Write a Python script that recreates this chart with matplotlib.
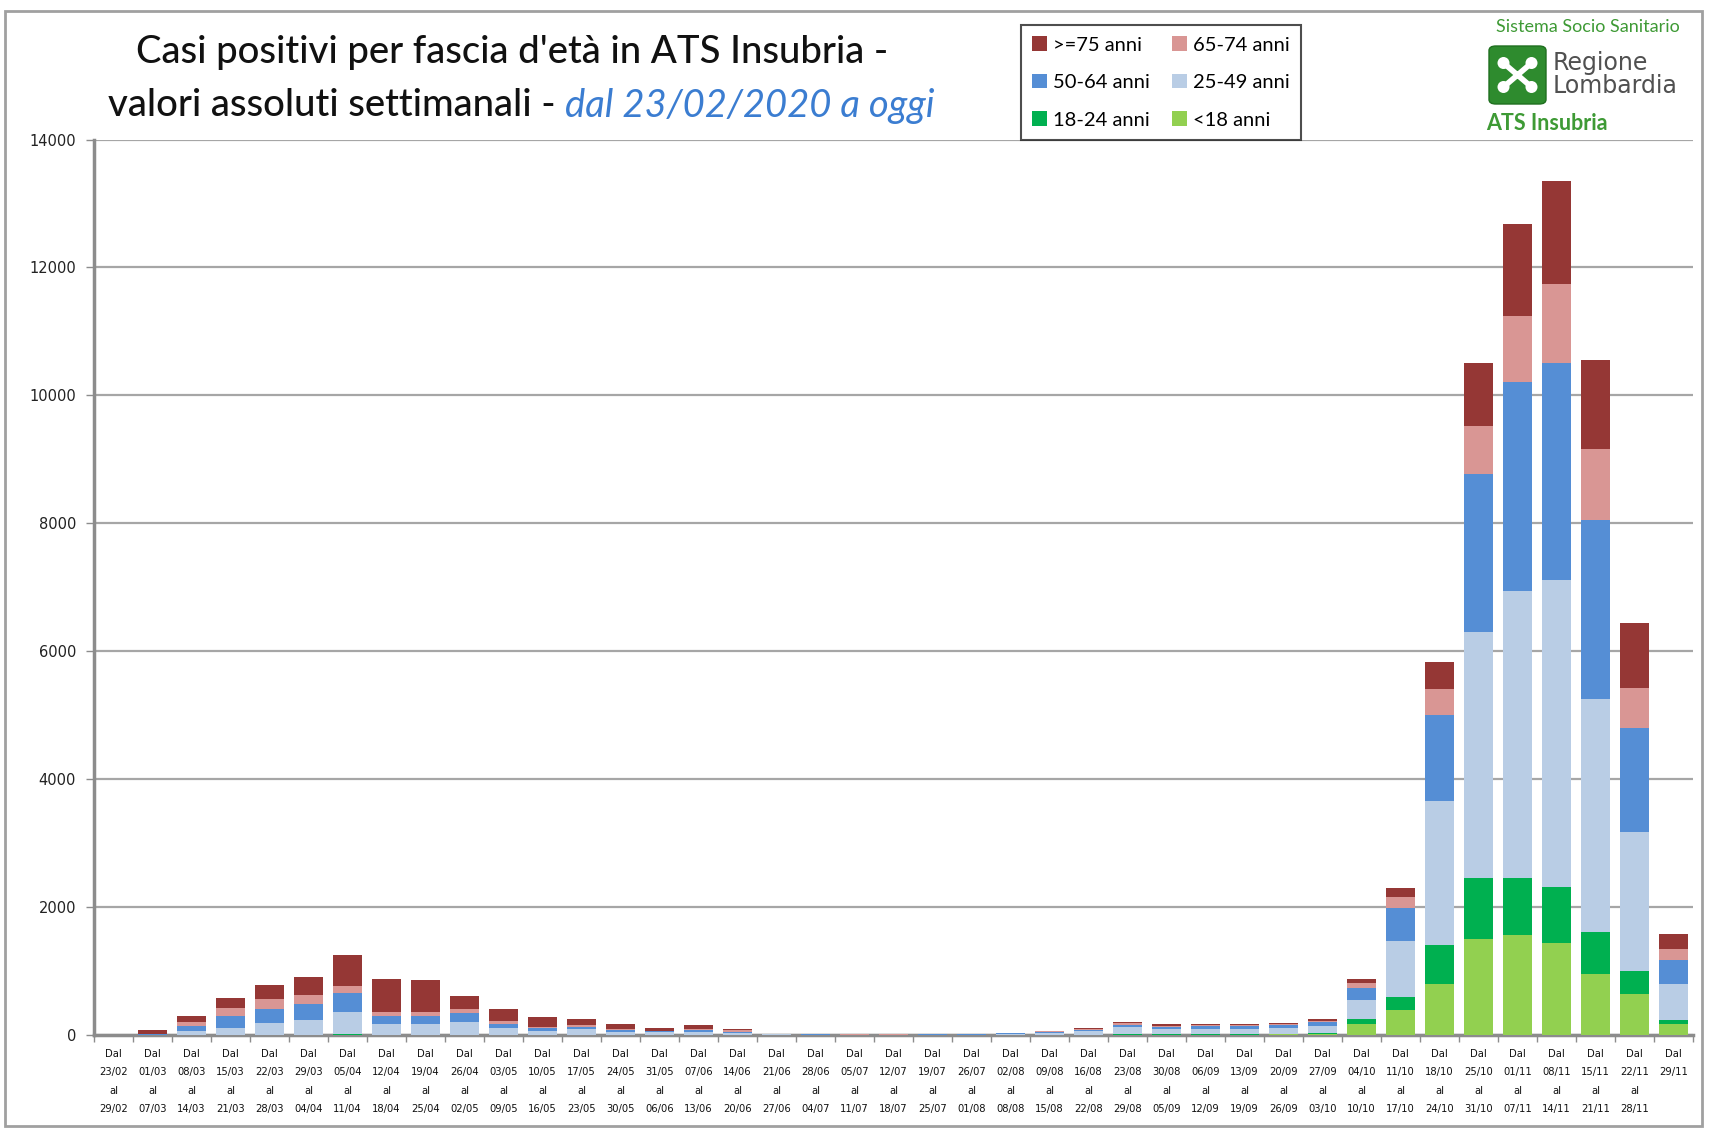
import matplotlib.pyplot as plt
import matplotlib.patches as mpatches
from matplotlib.lines import Line2D
import numpy as np

# Weekly windows (start / end)
week_start = ["23/02", "01/03", "08/03", "15/03", "22/03", "29/03", "05/04", "12/04", "19/04", "26/04",
              "03/05", "10/05", "17/05", "24/05", "31/05", "07/06", "14/06", "21/06", "28/06", "05/07",
              "12/07", "19/07", "26/07", "02/08", "09/08", "16/08", "23/08", "30/08", "06/09", "13/09",
              "20/09", "27/09", "04/10", "11/10", "18/10", "25/10", "01/11", "08/11", "15/11", "22/11",
              "29/11"]
week_end = ["29/02", "07/03", "14/03", "21/03", "28/03", "04/04", "11/04", "18/04", "25/04", "02/05",
            "09/05", "16/05", "23/05", "30/05", "06/06", "13/06", "20/06", "27/06", "04/07", "11/07",
            "18/07", "25/07", "01/08", "08/08", "15/08", "22/08", "29/08", "05/09", "12/09", "19/09",
            "26/09", "03/10", "10/10", "17/10", "24/10", "31/10", "07/11", "14/11", "21/11", "28/11",
            None]

# Positive cases per age group
under_18 = [0, 0, 2, 2, 3, 3, 4, 3, 3, 3, 2, 2, 1, 1, 1, 1, 1, 1, 1, 0,
            0, 1, 1, 1, 2, 2, 5, 5, 6, 7, 10, 18, 172, 392, 799, 1504, 1566, 1436, 955, 637, 172]
age_18_24 = [0, 0, 2, 3, 4, 4, 5, 4, 4, 4, 3, 2, 2, 2, 1, 2, 1, 1, 1, 1,
             1, 1, 1, 2, 3, 3, 8, 7, 8, 8, 10, 15, 73, 208, 611, 950, 888, 877, 653, 365, 63]
age_25_49 = [1, 5, 66, 110, 176, 228, 356, 160, 160, 197, 99, 64, 86, 47, 38, 47, 33, 6, 4, 4,
             3, 4, 5, 13, 28, 50, 110, 80, 85, 80, 95, 110, 303, 872, 2250, 3852, 4489, 4803, 3649, 2172, 564]
age_50_64 = [1, 6, 73, 183, 229, 245, 288, 131, 131, 135, 68, 47, 41, 30, 15, 30, 15, 4, 3, 2,
             2, 2, 3, 8, 15, 25, 40, 40, 35, 40, 40, 55, 193, 512, 1341, 2465, 3263, 3393, 2793, 1629, 376]
age_65_74 = [1, 8, 68, 130, 157, 146, 114, 67, 67, 63, 52, 15, 27, 20, 13, 15, 30, 3, 2, 2,
             2, 2, 2, 7, 10, 12, 20, 15, 25, 15, 20, 22, 68, 167, 402, 746, 1039, 1237, 1107, 626, 167]
over_75 = [2, 55, 89, 146, 214, 282, 476, 507, 496, 204, 188, 147, 88, 67, 42, 60, 15, 5, 4, 3,
           2, 2, 3, 5, 12, 12, 15, 20, 13, 22, 18, 25, 63, 146, 428, 992, 1441, 1608, 1399, 1008, 235]

series = [
    ("<18 anni", under_18, "#92D050"),
    ("18-24 anni", age_18_24, "#00B050"),
    ("25-49 anni", age_25_49, "#B9CDE5"),
    ("50-64 anni", age_50_64, "#558ED5"),
    ("65-74 anni", age_65_74, "#D99694"),
    (">=75 anni", over_75, "#953735"),
]

W, H = 1709, 1129
fig = plt.figure(figsize=(W / 100, H / 100), dpi=100)


def fx(px):
    return px / W


def fy(py):
    return 1 - py / H


ax = fig.add_axes([fx(94), fy(1035), fx(1693) - fx(94), fy(139.5) - fy(1035)])

x = np.arange(len(week_start))
bottom = np.zeros(len(x))
handles = {}
for name, vals, color in series:
    vals = np.array(vals, dtype=float)
    bars = ax.bar(x, vals, width=0.75, bottom=bottom, color=color, linewidth=0, zorder=3)
    handles[name] = bars
    bottom += vals

ax.set_xlim(-0.5, len(x) - 0.5)
ax.set_ylim(0, 14000)
ax.set_yticks(range(0, 14001, 2000))
ax.set_yticklabels([str(v) for v in range(0, 14001, 2000)], fontsize=10.5, color="#222222")
ax.yaxis.grid(True, color="#A6A6A6", linewidth=1.6, zorder=0)
ax.set_axisbelow(True)

labels = []
for s, e in zip(week_start, week_end):
    if e is None:
        labels.append("Dal\n" + s)
    else:
        labels.append("Dal\n" + s + "\nal\n" + e)
ax.set_xticks(x)
ax.set_xticklabels(labels, fontsize=7.2, linespacing=2.05, va="top", color="#111111")
ax.tick_params(axis="x", length=0, pad=10)
ax.set_xticks(np.arange(-0.5, len(x), 1), minor=True)
ax.tick_params(axis="x", which="minor", length=5, width=1, color="#8C8C8C", direction="out")
ax.tick_params(axis="y", length=6, width=1, color="#8C8C8C", pad=7)

for side in ["top", "right"]:
    ax.spines[side].set_visible(False)
for side in ["left", "bottom"]:
    ax.spines[side].set_color("#8C8C8C")
    ax.spines[side].set_linewidth(2.5)

# Title (two lines, second one has an italic blue tail)
fig.text(fx(512), fy(52), "Casi positivi per fascia d'età in ATS Insubria -", ha="center", va="center",
         fontsize=27.5, family="Lato", weight="medium", color="#111111")
t1 = fig.text(0, fy(106), "valori assoluti settimanali - ", ha="left", va="center",
              fontsize=27.5, family="Lato", weight="medium", color="#111111")
t2 = fig.text(0, fy(106), "dal 23/02/2020 a oggi", ha="left", va="center",
              fontsize=27.5, family="Lato", style="italic", color="#3B7DD1")
fig.canvas.draw()
r = fig.canvas.get_renderer()
w1 = t1.get_window_extent(r).width
w2 = t2.get_window_extent(r).width
start = 521 - (w1 + w2) / 2
t1.set_x(fx(start))
t2.set_x(fx(start + w1))

# Legend (matplotlib fills columns first, so order is column-wise)
order = [">=75 anni", "50-64 anni", "18-24 anni", "65-74 anni", "25-49 anni", "<18 anni"]
leg = fig.legend([handles[n] for n in order], order, loc="upper left",
                 bbox_to_anchor=(fx(1011), fy(15)), ncol=2,
                 prop={"family": "Lato", "size": 14.5},
                 frameon=True, fancybox=False, edgecolor="#222222", handlelength=0.75, handleheight=0.75,
                 handletextpad=0.3, columnspacing=1.1, labelspacing=1.0, borderpad=0.55)
leg.get_frame().set_linewidth(1.5)

# Logo block
green = "#3E9A35"
fig.text(fx(1588), fy(27), "Sistema Socio Sanitario", ha="center", va="center", fontsize=13,
         family="Lato", color=green)
fig.patches.append(mpatches.FancyBboxPatch((fx(1489), fy(104)), fx(57), fy(46) - fy(104),
                                           boxstyle="round,pad=0.0,rounding_size=0.004",
                                           transform=fig.transFigure, facecolor="#2E8B2E",
                                           edgecolor="#1F6F1F", linewidth=1))
cx, cy = 1517.5, 75
for dx, dy in [(-14, -12), (14, -12), (-14, 12), (14, 12)]:
    fig.lines.append(Line2D([fx(cx), fx(cx + dx)], [fy(cy), fy(cy + dy)], transform=fig.transFigure,
                            color="white", linewidth=4))
    fig.patches.append(mpatches.Ellipse((fx(cx + dx), fy(cy + dy)), fx(12), fy(0) - fy(12),
                                        transform=fig.transFigure, facecolor="white", edgecolor="none"))
fig.text(fx(1553), fy(63), "Regione", ha="left", va="center", fontsize=17, family="DejaVu Sans",
         color="#505050")
fig.text(fx(1553), fy(86), "Lombardia", ha="left", va="center", fontsize=17, family="DejaVu Sans",
         color="#505050")
fig.text(fx(1486), fy(124), "ATS Insubria", ha="left", va="center", fontsize=15.5, family="Lato",
         weight="bold", color=green)

# Outer frame
fig.patches.append(mpatches.Rectangle((fx(5), fy(1126)), fx(1702) - fx(5), fy(11) - fy(1126),
                                      transform=fig.transFigure, fill=False, edgecolor="#A0A0A0",
                                      linewidth=2))

fig.savefig("out.png", dpi=100)
